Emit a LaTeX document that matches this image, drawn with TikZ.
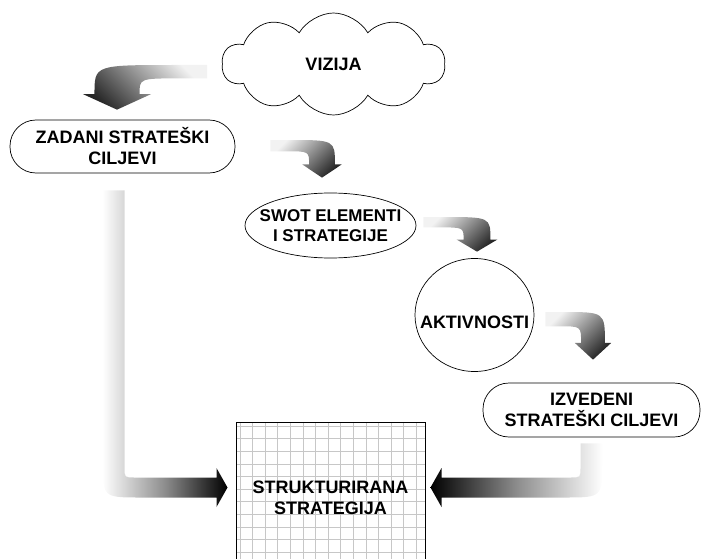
\documentclass[tikz,border=0pt]{standalone}
\usepackage{fontspec}
\setmainfont{Liberation Sans}
\usetikzlibrary{positioning,shapes,calc}

% curved arrow: tail corner #2, tip #3, shading angle #1
\newcommand{\curvearrow}[3][45]{%
  \shade[top color=black!5, bottom color=black!85, shading angle=#1]
    let \p1=(#2), \p2=(#3), \n1={\x2-\x1}, \n2={\y1-\y2} in
    (\x1,\y1) -- ({\x1+0.35*(\n1)},\y1)
    .. controls ({\x2+0.25*(\n1)},\y1) .. ({\x2+0.25*(\n1)},{\y2+0.35*(\n2)})
    -- ({\x2+0.38*(\n1)},{\y2+0.35*(\n2)}) -- (\x2,\y2)
    -- ({\x2-0.38*(\n1)},{\y2+0.35*(\n2)}) -- ({\x2-0.25*(\n1)},{\y2+0.35*(\n2)})
    .. controls ({\x2-0.25*(\n1)},{\y1-0.3*(\n2)}) .. ({\x1+0.3*(\n1)},{\y1-0.3*(\n2)})
    -- (\x1,{\y1-0.3*(\n2)}) -- cycle;}

% elbow arrow: top #1, tip #2, direction #3, shading #4
\newcommand{\elbowarrow}[4]{%
  \shade[#4] let \p1=(#1), \p2=(#2) in
    ({\x1-(#3)*11pt},\y1) -- ({\x1-(#3)*11pt},{\y2+28pt})
    .. controls ({\x1-(#3)*11pt},{\y2-10pt}) .. ({\x1+(#3)*27pt},{\y2-10pt})
    -- ({\x2-(#3)*11pt},{\y2-10pt}) -- ({\x2-(#3)*11pt},{\y2-19.5pt}) -- (\x2,\y2)
    -- ({\x2-(#3)*11pt},{\y2+19.5pt}) -- ({\x2-(#3)*11pt},{\y2+10pt})
    -- ({\x1+(#3)*21pt},{\y2+10pt})
    .. controls ({\x1+(#3)*11pt},{\y2+10pt}) .. ({\x1+(#3)*11pt},{\y2+20pt})
    -- ({\x1+(#3)*11pt},\y1) -- cycle;}

\begin{document}
\begin{tikzpicture}[x=1pt, y=1pt,
    txt/.style={font=\fontsize{18}{21}\selectfont\bfseries, align=center},
    goal/.style={txt, draw, line width=0.7pt, rectangle, rounded corners=26pt, inner sep=0pt}]
  \useasboundingbox (0,0) rectangle (701,-559);

  \node[txt, draw, line width=0.7pt, cloud, cloud puffs=10, cloud puff arc=120, aspect=2.2,
        minimum width=223pt, minimum height=102pt, inner sep=0pt] (vizija) at (333.5,-64) {VIZIJA};
  \node[goal, minimum width=225pt, minimum height=53pt] (zadani) at (122.5,-146.5) {ZADANI STRATEŠKI\\CILJEVI};
  \node[txt, draw, line width=0.7pt, ellipse, font=\fontsize{17}{20}\selectfont\bfseries,
        minimum width=171pt, minimum height=65pt, inner sep=-16pt] (swot) at (330.5,-225.5) {SWOT ELEMENTI\\I STRATEGIJE};
  \node[txt, draw, line width=0.7pt, ellipse, minimum width=119pt, minimum height=113pt,
        inner sep=-13pt, text height=27pt, text depth=0pt] (akt) at (474.5,-315) {AKTIVNOSTI};
  \node[goal, minimum width=217pt, minimum height=54pt] (izv) at (591.5,-410) {IZVEDENI\\STRATEŠKI CILJEVI};
  \node[txt, draw, line width=1pt, minimum width=189pt, minimum height=150pt, anchor=north,
        path picture={\draw[black!22, line width=0.6pt]
          (path picture bounding box.north west) grid[step=12.6pt]
          (path picture bounding box.south east);}] (strat) at (330.5,-422) {STRUKTURIRANA\\STRATEGIJA};

  \coordinate (t1) at ([shift={(-15,-1)}]vizija.west);
  \coordinate (h1) at ([shift={(-5.5,10)}]zadani.north);
  \coordinate (t2) at ([shift={(35,6.5)}]zadani.east);
  \coordinate (h2) at ([shift={(-8.5,15)}]swot.north);
  \coordinate (t3) at ([shift={(7,8.5)}]swot.east);
  \coordinate (h3) at ([shift={(2.5,6.5)}]akt.north);
  \coordinate (t4) at ([shift={(11,3)}]akt.east);
  \coordinate (h4) at ([shift={(1.5,23)}]izv.north);
  \coordinate (t5) at ([shift={(-9,-17)}]zadani.south);
  \coordinate (h5) at ([shift={(-8,10)}]strat.west);
  \coordinate (t6) at ([shift={(0,-6)}]izv.south);
  \coordinate (h6) at ([shift={(5,10)}]strat.east);

  \curvearrow[-45]{t1}{h1}
  \curvearrow{t2}{h2}
  \curvearrow{t3}{h3}
  \curvearrow{t4}{h4}
  \elbowarrow{t5}{h5}{1}{left color=white, right color=black, middle color=black!45}
  \elbowarrow{t6}{h6}{-1}{left color=black, right color=white, middle color=black!45}
\end{tikzpicture}
\end{document}
